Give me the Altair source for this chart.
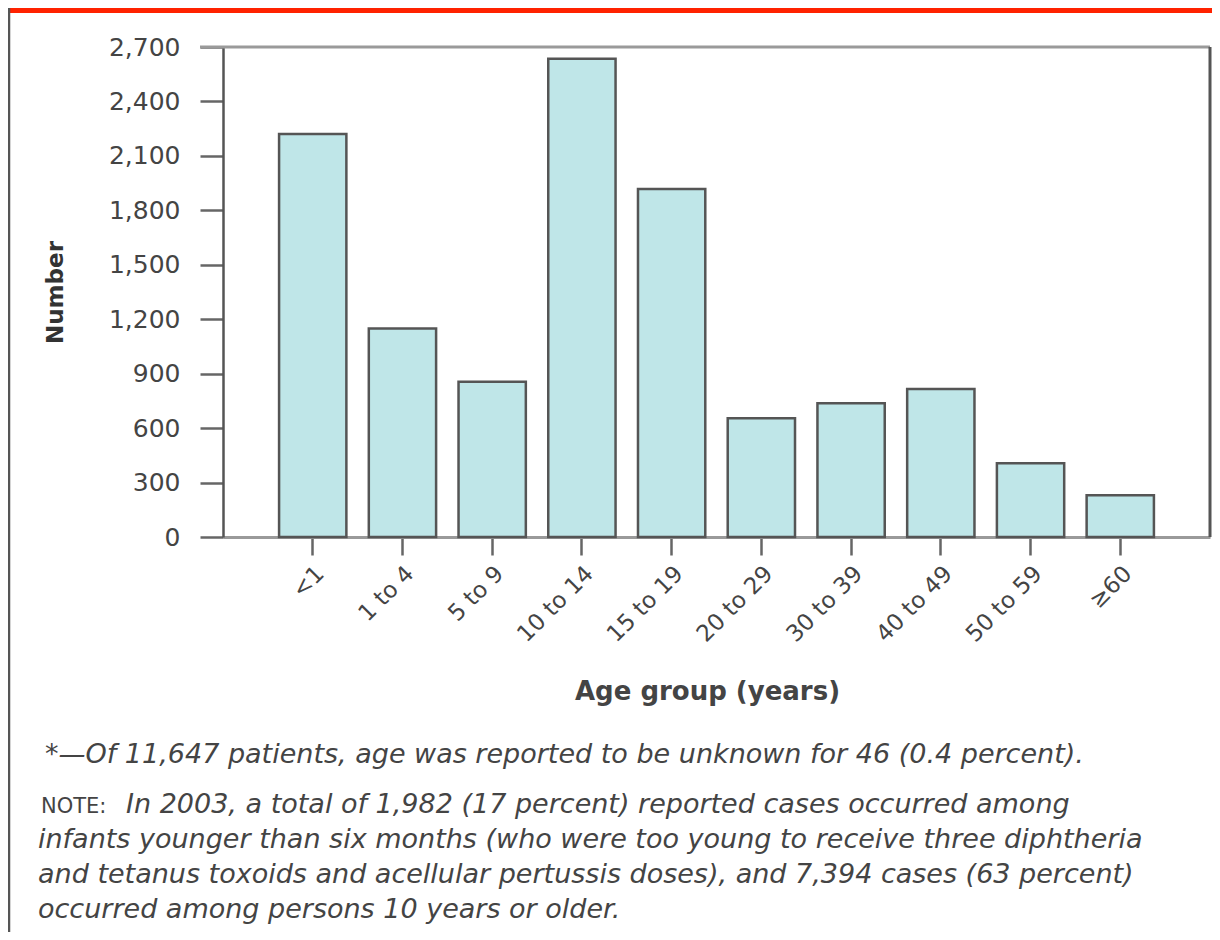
import altair as alt
import pandas as pd

# ---- data ----
age_groups = ["<1", "1 to 4", "5 to 9", "10 to 14", "15 to 19",
              "20 to 29", "30 to 39", "40 to 49", "50 to 59", "≥60"]
cases = [2221, 1149, 855, 2635, 1918, 655, 737, 816, 406, 230]
y_ticks = [0, 300, 600, 900, 1200, 1500, 1800, 2100, 2400, 2700]

footnote_star = "*\u2014Of 11,647 patients, age was reported to be unknown for 46 (0.4 percent)."
note_label = "NOTE:"
note_first = "In 2003, a total of 1,982 (17 percent) reported cases occurred among"
note_rest = [
    "infants younger than six months (who were too young to receive three diphtheria",
    "and tetanus toxoids and acellular pertussis doses), and 7,394 cases (63 percent)",
    "occurred among persons 10 years or older.",
]

df = pd.DataFrame({"age": age_groups, "cases": cases})

FONT = "DejaVu Sans"
W, H = 987, 490
one = alt.Data(values=[{}])

bars = alt.Chart(df).mark_bar(
    fill="#bfe6e8", stroke="#555555", strokeWidth=2.5
).encode(
    x=alt.X("age:N", sort=age_groups,
            scale=alt.Scale(domain=age_groups, paddingInner=0.25, paddingOuter=0.625),
            axis=alt.Axis(title="Age group (years)", labelAngle=315, labelFontSize=23,
                          labelColor="#444444", labelFont=FONT, labelPadding=7,
                          tickSize=18, tickColor="#666666", tickWidth=2.5,
                          domainColor="#9a9a9a", domainWidth=3,
                          titleFont=FONT, titleFontSize=26, titleFontWeight="bold",
                          titleColor="#444444", titleX=484, titleY=162,
                          titleBaseline="alphabetic", titleAlign="center")),
    y=alt.Y("cases:Q",
            scale=alt.Scale(domain=[0, 2700], nice=False),
            axis=alt.Axis(title="Number", values=y_ticks, format=",d", grid=False,
                          labelFontSize=25, labelColor="#444444", labelFont=FONT,
                          labelPadding=20, tickSize=23, tickColor="#666666", tickWidth=2.5,
                          domainColor="#555555", domainWidth=2.5,
                          titleFont=FONT, titleFontSize=23, titleFontWeight="bold",
                          titleColor="#333333", titleAngle=270, titleX=-168, titleY=245,
                          titleAlign="center", titleBaseline="middle")),
)

top_line = alt.Chart(one).mark_rule(color="#9a9a9a", strokeWidth=3).encode(
    x=alt.value(-23), x2=alt.value(W), y=alt.value(0))
right_line = alt.Chart(one).mark_rule(color="#555555", strokeWidth=3).encode(
    x=alt.value(W), y=alt.value(0), y2=alt.value(H))
page_line = alt.Chart(one).mark_rule(color="#555555", strokeWidth=2.5).encode(
    x=alt.value(-214), y=alt.value(-39), y2=alt.value(885))
red_band = alt.Chart(one).mark_rect(color="#ff2200").encode(
    x=alt.value(-215), x2=alt.value(W + 2), y=alt.value(-39), y2=alt.value(-34))

txt_style = dict(font=FONT, fontSize=27, fontStyle="italic", color="#444444",
                 align="left", baseline="alphabetic")
star_txt = alt.Chart(one).mark_text(**txt_style).encode(
    x=alt.value(-178), y=alt.value(716), text=alt.value(footnote_star))
note_lbl = alt.Chart(one).mark_text(font=FONT, fontSize=21, color="#444444",
                                    align="left", baseline="alphabetic").encode(
    x=alt.value(-182), y=alt.value(766), text=alt.value(note_label))
note1 = alt.Chart(one).mark_text(**txt_style).encode(
    x=alt.value(-97), y=alt.value(766), text=alt.value(note_first))
note2 = alt.Chart(one).mark_text(lineHeight=35, **txt_style).encode(
    x=alt.value(-185), y=alt.value(801), text=alt.value(note_rest))

chart = alt.layer(
    red_band, page_line, bars, top_line, right_line,
    star_txt, note_lbl, note1, note2
).properties(
    width=W, height=H,
    autosize=alt.AutoSizeParams(type="none"),
    padding={"left": 215, "top": 39, "right": 2, "bottom": 395},
).configure_view(stroke=None).configure(background="white")

chart.save("out.html", embed_options={"renderer": "svg", "actions": False})
